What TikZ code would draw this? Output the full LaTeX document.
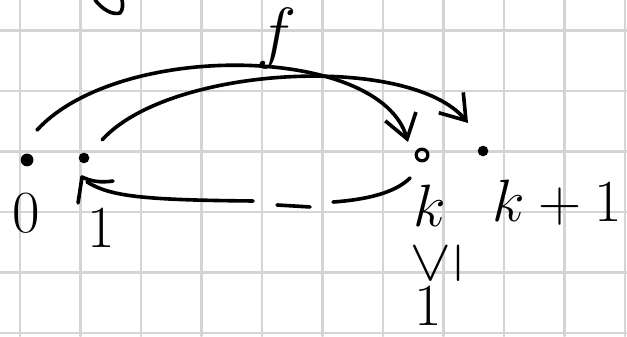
\documentclass[tikz,border=0pt]{standalone}
\usepackage{amsmath,amssymb}
\usepackage{tikz}
\usetikzlibrary{arrows.meta}
\begin{document}
\begin{tikzpicture}[>={Straight Barb[length=11pt,width=15pt]},line cap=round,line join=round,
  pen/.style={line width=1.7pt},
  dot/.style={circle,fill,inner sep=0pt,minimum size=5pt},
  ring/.style={circle,draw,line width=1.5pt,inner sep=0pt,minimum size=5.5pt},
  lbl/.style={inner sep=0pt,font=\Huge,scale=1.13}]
\useasboundingbox (-0.331,-0.05) rectangle (10.033,5.504);
\fill[white] (-0.331,-0.05) rectangle (10.033,5.504);
\draw[black!17,line width=1pt] (-0.331,-0.05) grid (10.033,5.504);
\node[dot,minimum width=6pt] (p0) at (0.116,2.860) {}; \node[dot] (p1) at (1.058,2.893) {};
\node[ring] (pk) at (6.645,2.942) {}; \node[dot] (pk1) at (7.653,3.008) {};
\node[lbl,anchor=base] (l0) at (0.099,1.653) {$0$}; \node[lbl,anchor=base] (l1) at (1.339,1.405) {$1$};
\node[lbl,anchor=base] (lk) at (6.777,1.752) {$k$}; \node[lbl,anchor=base west] (lk1) at (7.80,1.835) {$k+1$};
\node[lbl,rotate=90] (leq) at (6.893,1.157) {$\leq$}; \node[lbl,anchor=base] (lone) at (6.744,0.12) {$1$};
\node[lbl,scale=1.14] (lf) at (4.248,4.876) {$f$};
\draw[pen,->] ([shift={(0.165,0.495)}]p0.center) .. controls (1.653,4.843) and (5.950,4.760) .. ([shift={(-0.232,0.215)}]pk.center);
\draw[pen,->] ([shift={(0.298,0.298)}]p1.center) .. controls (2.479,4.430) and (6.45,4.62) .. ([shift={(-0.248,0.463)}]pk1.center);
\draw[pen] (0.959,2.149) -- (1.025,2.579) .. controls (1.157,2.512) and (1.322,2.479) .. (1.537,2.512);
\draw[pen] (1.107,2.496) .. controls (1.488,2.264) and (1.983,2.198) .. (3.851,2.182);
\draw[pen] (4.248,2.116) -- (4.793,2.083);
\draw[pen] (5.174,2.165) .. controls (5.868,2.215) and (6.248,2.364) .. (6.446,2.562);
\draw[pen] (1.240,5.504) .. controls (1.372,5.339) and (1.521,5.256) .. (1.653,5.289) .. controls (1.702,5.339) and (1.702,5.438) .. (1.686,5.504);
\end{tikzpicture}
\end{document}
